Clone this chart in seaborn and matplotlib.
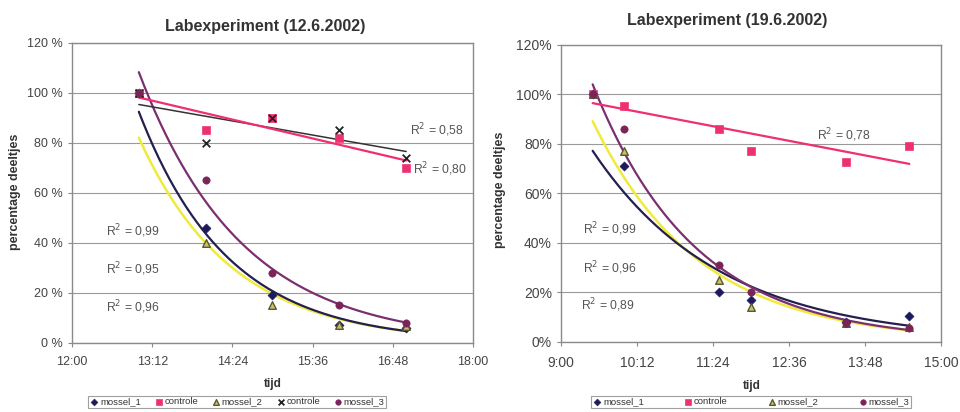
import numpy as np
import pandas as pd
import matplotlib
matplotlib.use("Agg")
import matplotlib.pyplot as plt
import seaborn as sns

# ---------------- data: Labexperiment 12.6.2002 ----------------
times_a = ["13:00", "14:00", "15:00", "16:00", "17:00"]
mossel1_a = [100, 46, 19, 7, 6]
controle_a = [100, 85, 90, 82, 70]
mossel2_a = [100, 40, 15, 7, 6.5]
controleX_a = [100, 80, 90, 85, 74]
mossel3_a = [100, 65, 28, 15, 8]
xtick_labels_a = ["12:00", "13:12", "14:24", "15:36", "16:48", "18:00"]
ytick_labels_a = ["0 %", "20 %", "40 %", "60 %", "80 %", "100 %", "120 %"]
r2_a = ["R$^2$ = 0,58", "R$^2$ = 0,80", "R$^2$ = 0,99", "R$^2$ = 0,95", "R$^2$ = 0,96"]

# ---------------- data: Labexperiment 19.6.2002 ----------------
times_b = ["9:30", "10:00", "11:30", "12:00", "13:30", "14:30"]
mossel1_b = [100, 71, 20, 17, 8, 10.5]
controle_b = [100, 95.5, 86, 77, 72.6, 79]
mossel2_b = [100, 77, 25, 14, 7.5, 6]
mossel3_b = [100, 86, 31, 20, 7.5, 5.5]
xtick_labels_b = ["9:00", "10:12", "11:24", "12:36", "13:48", "15:00"]
ytick_labels_b = ["0%", "20%", "40%", "60%", "80%", "100%", "120%"]
r2_b = ["R$^2$ = 0,78", "R$^2$ = 0,99", "R$^2$ = 0,96", "R$^2$ = 0,89"]

yticks = [0, 20, 40, 60, 80, 100, 120]

sns.set_style("white")
plt.rcParams['font.family'] = ['Liberation Sans', 'DejaVu Sans']

W, H = 960, 412
fig = plt.figure(figsize=(W / 100, H / 100), dpi=100)


def hrs(s):
    hh, mm = s.split(":")
    return int(hh) + int(mm) / 60.0


def expfit(t, y):
    t = np.asarray(t, float)
    b, a = np.polyfit(t, np.log(np.asarray(y, float)), 1)
    tt = np.linspace(t.min(), t.max(), 200)
    return tt, np.exp(a + b * tt)


def linfit(t, y):
    t = np.asarray(t, float)
    b, a = np.polyfit(t, np.asarray(y, float), 1)
    tt = np.linspace(t.min(), t.max(), 50)
    return tt, a + b * tt


def px(x, y):
    return x / W, 1 - y / H


C_M1 = "#1c1a5c"
C_M1_LINE = "#232050"
C_CTRL = "#ee2f72"
C_M2 = "#5a5a2a"
C_M2_LINE = "#f0ea3c"
C_X = "#222222"
C_X_LINE = "#333333"
C_M3 = "#7a2458"
C_M3_LINE = "#7a3070"


def style_axes(ax, x0, x1, xtl, ytl, ls):
    ax.set_xlim(x0, x1)
    ax.set_ylim(0, 120)
    ax.set_xticks(np.linspace(x0, x1, len(xtl)))
    ax.set_xticklabels(xtl)
    ax.set_yticks(yticks)
    ax.set_yticklabels(ytl)
    ax.grid(axis="y", color="#9a9a9a", lw=0.8)
    ax.set_axisbelow(True)
    for s in ax.spines.values():
        s.set_color("#8a8a8a")
        s.set_linewidth(1.0)
    ax.tick_params(axis="both", labelsize=ls, colors="#8a8a8a",
                   labelcolor="#444444", length=3, width=0.8, direction="out",
                   bottom=True, left=True)
    ax.tick_params(axis="x", pad=7)
    ax.set_xlabel("")
    ax.set_ylabel("")


def add_legend(ax, handles, labels, cx, ncol, colsp):
    leg = ax.legend(handles, labels, loc="upper center", bbox_to_anchor=px(cx, 396),
                    bbox_transform=fig.transFigure, ncol=ncol, fontsize=6.8,
                    frameon=True, fancybox=False, edgecolor="#888888",
                    handletextpad=0.1, columnspacing=colsp, borderpad=0.15,
                    markerscale=0.75, handlelength=1.0, handleheight=0.5,
                    labelcolor="#333333", borderaxespad=0)
    leg.get_frame().set_linewidth(0.8)
    return leg


# ================= left chart =================
axL = fig.add_axes([72 / W, 1 - 342.5 / H, 401 / W, 300 / H])
tA = [hrs(s) for s in times_a]

for vals, col, lw in [(mossel2_a, C_M2_LINE, 1.8), (mossel1_a, C_M1_LINE, 1.6),
                      (mossel3_a, C_M3_LINE, 1.6)]:
    tt, yy = expfit(tA, vals)
    sns.lineplot(x=tt, y=yy, ax=axL, color=col, lw=lw, legend=False, zorder=3)
tt, yy = linfit(tA, controleX_a)
sns.lineplot(x=tt, y=yy, ax=axL, color=C_X_LINE, lw=1.1, legend=False, zorder=3)
tt, yy = linfit(tA, controle_a)
sns.lineplot(x=tt, y=yy, ax=axL, color=C_CTRL, lw=1.6, legend=False, zorder=3)

sns.scatterplot(x=tA, y=mossel1_a, ax=axL, marker="D", s=22, color=C_M1,
                edgecolor=C_M1, label="mossel_1", zorder=4)
sns.scatterplot(x=tA, y=controle_a, ax=axL, marker="s", s=34, color=C_CTRL,
                edgecolor=C_CTRL, label="controle", zorder=4)
sns.scatterplot(x=tA, y=mossel2_a, ax=axL, marker="^", s=30, color="#c8c070",
                edgecolor=C_M2, linewidth=1.0, label="mossel_2", zorder=4)
sns.scatterplot(x=tA, y=controleX_a, ax=axL, marker="x", s=30, color=C_X,
                linewidth=1.3, label="controle", zorder=4)
sns.scatterplot(x=tA, y=mossel3_a, ax=axL, marker="o", s=28, color=C_M3,
                edgecolor=C_M3, label="mossel_3", zorder=5)
style_axes(axL, 12.0, 18.0, xtick_labels_a, ytick_labels_a, 9)
hL, lL = axL.get_legend_handles_labels()
add_legend(axL, hL, lL, 237, 5, 1.4)

fig.text(*px(265, 27), "Labexperiment (12.6.2002)", ha="center", va="center",
         fontsize=11.5, fontweight="bold", color="#333333")
fig.text(*px(273, 384), "tijd", ha="center", va="center", fontsize=8.5,
         fontweight="bold", color="#333333")
fig.text(*px(15, 192), "percentage deeltjes", ha="center", va="center",
         rotation=90, fontsize=9, fontweight="bold", color="#333333")

r2_pos_a = [(410, 130), (413, 169), (106, 231), (106, 269), (106, 307)]
for txt, (x, y) in zip(r2_a, r2_pos_a):
    fig.text(*px(x, y), txt, ha="left", va="center", fontsize=8.8, color="#555555")

# ================= right chart =================
axR = fig.add_axes([561 / W, 1 - 341.7 / H, 380 / W, 296.7 / H])
tB = [hrs(s) for s in times_b]

for vals, col, lw in [(mossel2_b, C_M2_LINE, 1.8), (mossel1_b, C_M1_LINE, 1.6),
                      (mossel3_b, C_M3_LINE, 1.6)]:
    tt, yy = expfit(tB, vals)
    sns.lineplot(x=tt, y=yy, ax=axR, color=col, lw=lw, legend=False, zorder=3)
tt, yy = linfit(tB, controle_b)
sns.lineplot(x=tt, y=yy, ax=axR, color=C_CTRL, lw=1.6, legend=False, zorder=3)

sns.scatterplot(x=tB, y=mossel1_b, ax=axR, marker="D", s=22, color=C_M1,
                edgecolor=C_M1, label="mossel_1", zorder=4)
sns.scatterplot(x=tB, y=controle_b, ax=axR, marker="s", s=34, color=C_CTRL,
                edgecolor=C_CTRL, label="controle", zorder=4)
sns.scatterplot(x=tB, y=mossel2_b, ax=axR, marker="^", s=30, color="#c8c070",
                edgecolor=C_M2, linewidth=1.0, label="mossel_2", zorder=4)
sns.scatterplot(x=tB, y=mossel3_b, ax=axR, marker="o", s=28, color=C_M3,
                edgecolor=C_M3, label="mossel_3", zorder=5)
style_axes(axR, 9.0, 15.0, xtick_labels_b, ytick_labels_b, 10)
hR, lR = axR.get_legend_handles_labels()
add_legend(axR, hR, lR, 751, 4, 4.2)

fig.text(*px(727, 20), "Labexperiment (19.6.2002)", ha="center", va="center",
         fontsize=11.5, fontweight="bold", color="#333333")
fig.text(*px(752, 386), "tijd", ha="center", va="center", fontsize=8.5,
         fontweight="bold", color="#333333")
fig.text(*px(500, 190), "percentage deeltjes", ha="center", va="center",
         rotation=90, fontsize=9, fontweight="bold", color="#333333")

r2_pos_b = [(817, 135), (583, 229), (583, 268), (581, 305)]
for txt, (x, y) in zip(r2_b, r2_pos_b):
    fig.text(*px(x, y), txt, ha="left", va="center", fontsize=8.8, color="#555555")

fig.savefig("out.png", dpi=100)
